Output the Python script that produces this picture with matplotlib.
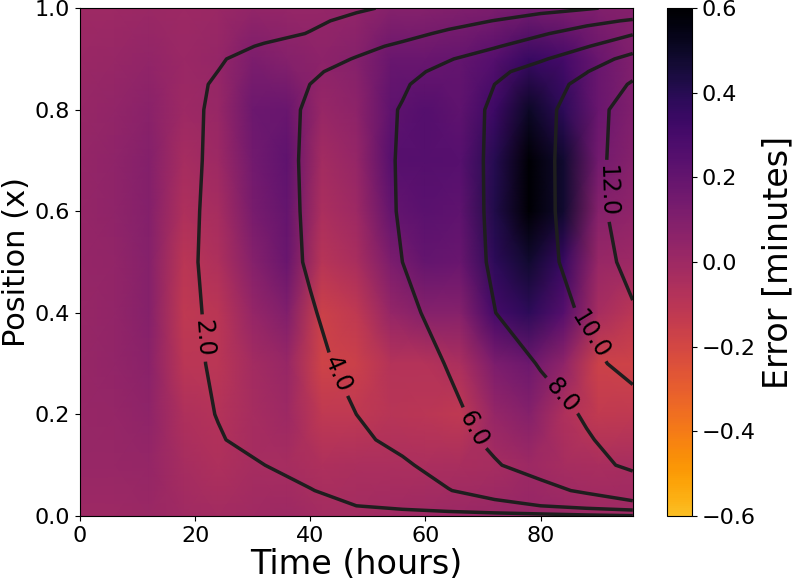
import numpy as np
import matplotlib
matplotlib.use("Agg")
import matplotlib.pyplot as plt
from matplotlib.colors import ListedColormap

# error field (minutes): rows = position, cols = time
err_time = [0, 6, 12, 18, 24, 30, 36, 42, 48, 54, 60, 66, 72, 78, 84, 90, 96]
err_pos = [0.0, 0.1, 0.2, 0.3, 0.4, 0.5, 0.6, 0.7, 0.8, 0.9, 1.0]
err_vals = [
    [0.00, 0.00, 0.01, -0.01, -0.02, -0.01, 0.00, -0.02, -0.02, -0.01, 0.00, 0.01, 0.02, 0.03, 0.02, 0.00, 0.00],
    [0.02, 0.02, 0.03, -0.03, -0.06, -0.03, -0.03, -0.06, -0.05, -0.05, -0.05, -0.04, -0.03, 0.00, -0.03, -0.04, -0.03],
    [0.02, 0.03, 0.05, -0.06, -0.08, -0.03, 0.00, -0.12, -0.12, -0.09, -0.10, -0.12, 0.03, 0.08, -0.06, -0.13, -0.12],
    [0.02, 0.04, 0.07, -0.10, -0.10, -0.02, 0.02, -0.18, -0.16, -0.08, -0.08, -0.05, 0.12, 0.17, 0.05, -0.17, -0.18],
    [0.02, 0.04, 0.08, -0.12, -0.10, 0.03, 0.10, -0.17, -0.12, 0.03, 0.08, 0.08, 0.30, 0.38, 0.25, -0.03, -0.10],
    [0.03, 0.04, 0.08, -0.10, -0.06, 0.08, 0.18, -0.09, -0.04, 0.12, 0.20, 0.18, 0.38, 0.48, 0.35, 0.02, 0.00],
    [0.03, 0.05, 0.09, -0.06, -0.03, 0.13, 0.20, -0.05, 0.00, 0.20, 0.23, 0.22, 0.42, 0.62, 0.48, 0.08, 0.05],
    [0.03, 0.05, 0.09, -0.03, 0.00, 0.15, 0.22, -0.02, 0.03, 0.24, 0.25, 0.24, 0.40, 0.62, 0.48, 0.15, 0.08],
    [0.02, 0.04, 0.07, 0.00, 0.02, 0.17, 0.18, 0.02, 0.06, 0.22, 0.25, 0.22, 0.33, 0.50, 0.38, 0.18, 0.10],
    [0.01, 0.02, 0.04, 0.01, 0.03, 0.12, 0.08, 0.06, 0.08, 0.18, 0.18, 0.20, 0.25, 0.35, 0.30, 0.18, 0.10],
    [0.00, 0.00, 0.01, 0.00, 0.01, 0.04, 0.03, 0.03, 0.04, 0.08, 0.08, 0.10, 0.12, 0.14, 0.12, 0.10, 0.08],
]

# contoured quantity: rows = position, cols = time
lev_time = [0, 8, 16, 24, 32, 40, 48, 56, 64, 72, 80, 88, 96]
lev_pos = [0.0, 0.02, 0.05, 0.1, 0.15, 0.2, 0.3, 0.4, 0.5, 0.6, 0.7, 0.8, 0.85,
           0.875, 0.9, 0.925, 0.95, 0.975, 1.0]
lev_vals = [
    [0, 0.15, 0.30, 0.45, 0.60, 0.75, 0.90, 1.05, 1.20, 1.35, 1.50, 1.70, 1.90],
    [0, 0.33, 0.67, 1.00, 1.33, 1.67, 2.00, 2.50, 3.00, 3.50, 4.00, 4.75, 5.50],
    [0, 0.39, 0.77, 1.16, 1.55, 1.94, 2.57, 3.26, 3.94, 4.71, 5.49, 6.27, 7.00],
    [0, 0.50, 0.99, 1.49, 1.99, 2.58, 3.17, 3.76, 4.69, 5.87, 6.68, 7.49, 8.30],
    [0, 0.63, 1.26, 1.90, 2.49, 3.08, 3.68, 4.44, 5.41, 6.31, 7.09, 7.88, 8.60],
    [0, 0.68, 1.37, 2.05, 2.70, 3.37, 4.00, 4.84, 5.68, 6.51, 7.33, 8.15, 9.00],
    [0, 0.73, 1.47, 2.20, 2.91, 3.63, 4.40, 5.23, 6.08, 7.08, 8.11, 9.43, 10.7],
    [0, 0.75, 1.50, 2.27, 3.08, 3.88, 4.72, 5.57, 6.64, 7.97, 9.08, 10.27, 11.8],
    [0, 0.77, 1.54, 2.36, 3.25, 4.15, 5.08, 6.00, 7.09, 8.20, 9.41, 10.88, 12.6],
    [0, 0.75, 1.51, 2.33, 3.27, 4.21, 5.17, 6.13, 7.17, 8.25, 9.48, 11.12, 13.1],
    [0, 0.74, 1.47, 2.28, 3.27, 4.25, 5.20, 6.15, 7.19, 8.26, 9.49, 11.15, 13.1],
    [0, 0.73, 1.45, 2.25, 3.23, 4.21, 5.15, 6.10, 7.15, 8.23, 9.44, 11.05, 13.0],
    [0, 0.71, 1.42, 2.16, 3.09, 4.01, 4.91, 5.82, 6.89, 8.00, 9.18, 10.51, 12.2],
    [0, 0.67, 1.34, 2.01, 2.88, 3.74, 4.62, 5.50, 6.48, 7.59, 8.77, 9.95, 11.5],
    [0, 0.62, 1.25, 1.87, 2.59, 3.33, 4.09, 4.99, 5.89, 6.84, 7.80, 9.08, 10.6],
    [0, 0.52, 1.04, 1.56, 2.12, 2.84, 3.56, 4.28, 5.00, 5.86, 6.86, 7.91, 9.20],
    [0, 0.41, 0.81, 1.22, 1.62, 2.05, 2.79, 3.52, 4.27, 5.04, 5.81, 6.80, 7.87],
    [0, 0.36, 0.72, 1.08, 1.44, 1.80, 2.26, 2.85, 3.44, 4.04, 4.76, 5.47, 6.20],
    [0, 0.31, 0.62, 0.92, 1.23, 1.54, 1.85, 2.21, 2.62, 3.03, 3.44, 3.86, 4.40],
]
levels = [2, 4, 6, 8, 10, 12]
cbar_ticks = [-0.6, -0.4, -0.2, 0.0, 0.2, 0.4, 0.6]

# inferno, cut before the pale yellow end, reversed
cmap = ListedColormap(plt.cm.inferno(np.linspace(0, 0.85, 256))[::-1])

fig = plt.figure(figsize=(7.93, 5.83), dpi=100)
ax = fig.add_axes([0.1009, 0.115, 0.697, 0.871])
cax = fig.add_axes([0.841, 0.115, 0.0315, 0.871])

mesh = ax.pcolormesh(err_time, err_pos, np.array(err_vals), shading='gouraud',
                     cmap=cmap, vmin=-0.6, vmax=0.6)
cs = ax.contour(lev_time, lev_pos, np.array(lev_vals), levels=levels,
                colors='#1e1e1e', linewidths=2.5)
ax.clabel(cs, fmt='%.1f', fontsize=17, inline=True, colors='k',
          manual=[(21, 0.35), (45, 0.28), (68, 0.17), (84, 0.24), (89, 0.36), (91.5, 0.64)])

ax.set_xlim(0, 96)
ax.set_ylim(0, 1)
ax.set_xticks([0, 20, 40, 60, 80])
ax.set_yticks([0.0, 0.2, 0.4, 0.6, 0.8, 1.0])
ax.tick_params(labelsize=16)
ax.set_xlabel('Time (hours)', fontsize=24, labelpad=2)
ax.set_ylabel('Position (x)', fontsize=22, labelpad=3)

cb = fig.colorbar(mesh, cax=cax, ticks=cbar_ticks)
cb.ax.tick_params(labelsize=16)
cb.set_label('Error [minutes]', fontsize=24)

fig.savefig('out.png', dpi=100)
